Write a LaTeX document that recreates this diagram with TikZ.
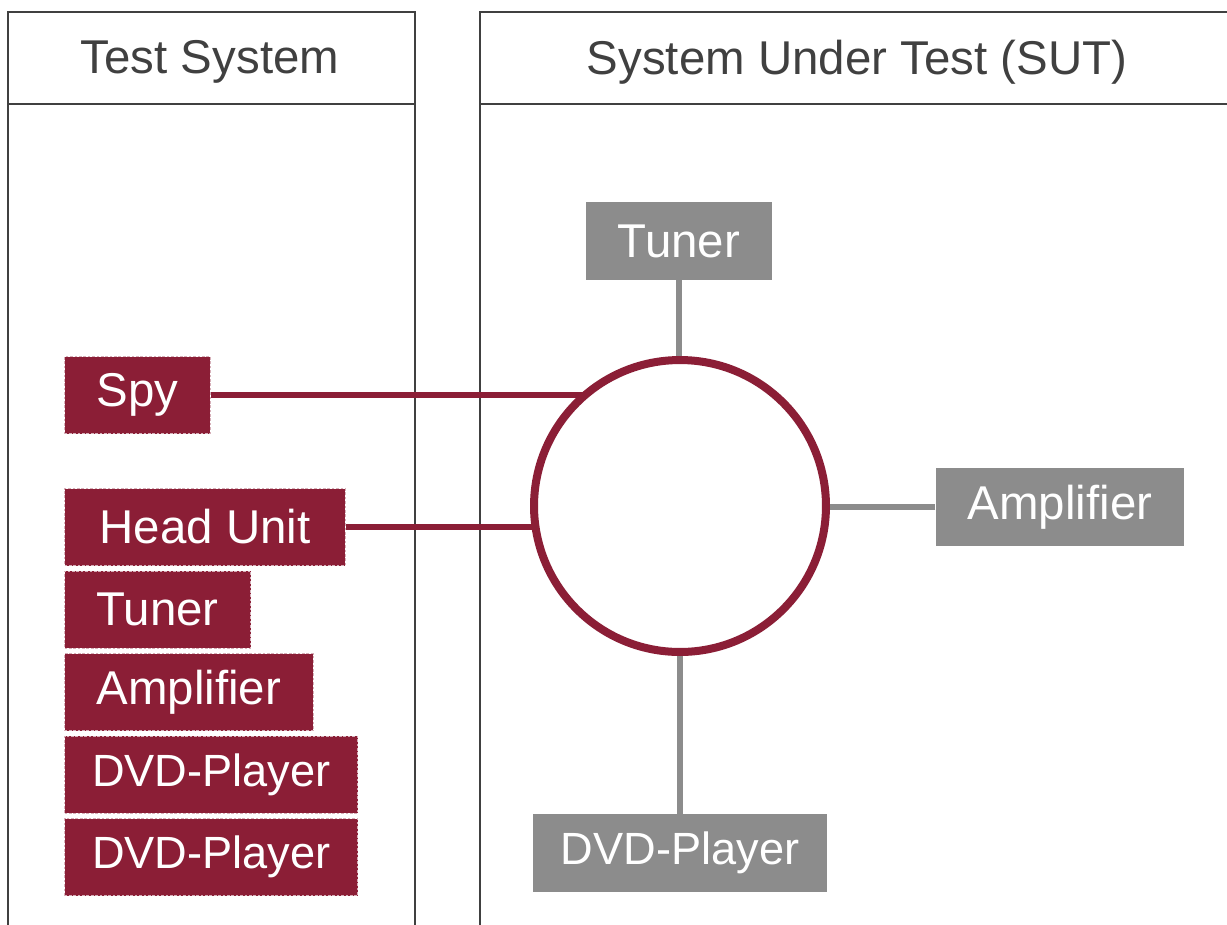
\documentclass[tikz,border=0pt]{standalone}
\usepackage{fontspec}
\setmainfont{Liberation Sans}
\usepackage{tikz}
\usetikzlibrary{positioning}
\definecolor{sutred}{HTML}{8B1E36}
\definecolor{sutgray}{HTML}{8C8C8C}
\definecolor{frame}{HTML}{404040}
\tikzstyle{tsbox}=[rectangle, fill=sutred, draw=sutred!35!white, dash pattern=on 1.5pt off 1pt,
  line width=0.6pt, text=white, inner xsep=0.64cm, minimum height=1.54cm,
  font=\fontsize{27}{32}\selectfont]
\tikzstyle{sutbox}=[rectangle, fill=sutgray, text=white, inner xsep=0.64cm, minimum height=1.56cm,
  font=\fontsize{27}{32}\selectfont]
\tikzstyle{dvdtext}=[font=\fontsize{25.7}{30}\selectfont, inner xsep=0.55cm]
\tikzstyle{redline}=[sutred, line width=0.11cm]
\tikzstyle{grayline}=[sutgray, line width=0.12cm]

\begin{document}
\begin{tikzpicture}[x=0.02cm, y=-0.02cm]
  \useasboundingbox (0,0) rectangle (1227,924);
  \clip (0,0) rectangle (1227,924);
  % panels
  \draw[frame, line width=0.04cm] (8,940) |- (415,12) -- (415,940);
  \draw[frame, line width=0.04cm] (8,104) -- (415,104);
  \draw[frame, line width=0.04cm] (480,940) |- (1240,12);
  \draw[frame, line width=0.04cm] (480,104) -- (1240,104);
  \node[text=frame, font=\fontsize{27}{32}\selectfont] (tstitle) at (210,62) {Test System};
  \node[text=frame, font=\fontsize{27}{32}\selectfont] (suttitle) at (857,62) {System Under Test (SUT)};
  % hub centre
  \coordinate (hubc) at (680,506);
  % test system
  \node[tsbox, anchor=west] (spy) at (64,395) {Spy};
  \node[tsbox, anchor=west, inner xsep=0.7cm] (headunit) at (64,527) {Head Unit};
  \node[tsbox, below=0.09cm of headunit.south west, anchor=north west] (tstuner) {Tuner};
  \node[tsbox, below=0.09cm of tstuner.south west, anchor=north west] (tsamp) {Amplifier};
  \node[tsbox, dvdtext, below=0.09cm of tsamp.south west, anchor=north west]
    (tsdvda) {DVD-Player};
  \node[tsbox, dvdtext, below=0.09cm of tsdvda.south west, anchor=north west]
    (tsdvdb) {DVD-Player};
  % system under test
  \node[sutbox] (tuner) at (679,241) {Tuner};
  \node[sutbox] (amp) at (1060,507) {Amplifier};
  \node[sutbox, dvdtext] (dvd) at (680,853) {DVD-Player};
  % lines
  \draw[redline] (spy.east) -- (spy.east -| hubc);
  \draw[redline] (headunit.east) -- (headunit.east -| hubc);
  \draw[grayline] (tuner.south) -- (tuner.south |- hubc);
  \draw[grayline] (amp.west) -- (amp.west -| hubc);
  \draw[grayline] (dvd.north) -- (dvd.north |- hubc);
  \node[circle, draw=sutred, fill=white, line width=0.16cm, minimum size=5.84cm] (hub) at (hubc) {};
\end{tikzpicture}
\end{document}
